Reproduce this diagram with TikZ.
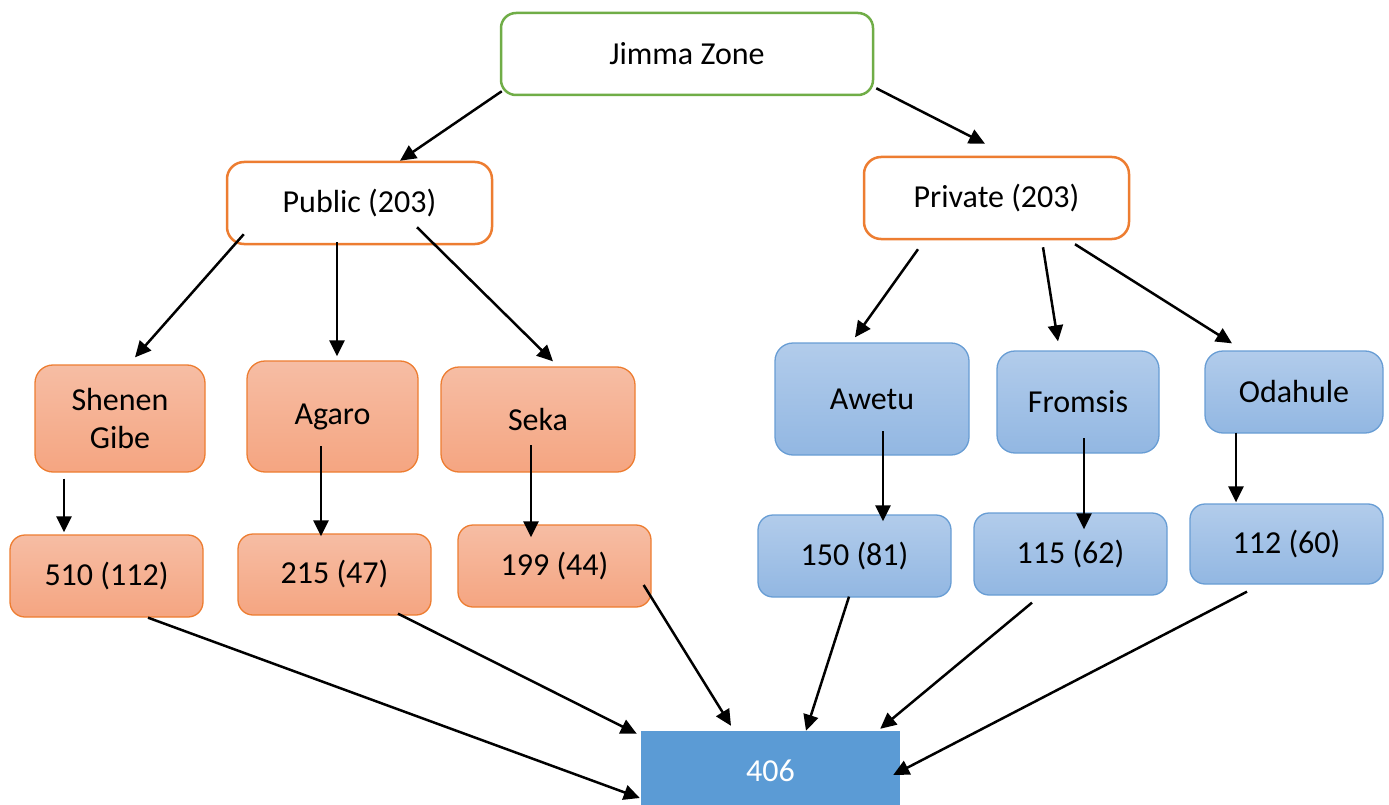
\documentclass[tikz,border=0pt]{standalone}
\usepackage{fontspec}
\setmainfont{Carlito}
\usetikzlibrary{arrows.meta}
\definecolor{grn}{HTML}{70AD47}
\definecolor{org}{HTML}{ED7D31}
\definecolor{orgtop}{RGB}{246,189,164}
\definecolor{orgbot}{RGB}{245,165,129}
\definecolor{blutop}{RGB}{178,204,235}
\definecolor{blubot}{RGB}{146,183,226}
\definecolor{bluline}{RGB}{104,157,212}
\definecolor{blufill}{HTML}{5B9BD5}
\tikzset{
  base/.style={rectangle, inner sep=0pt, align=center, font=\fontsize{32}{38}\selectfont},
  topbox/.style={base, draw=grn, line width=2.5pt, fill=white, rounded corners=15pt},
  midbox/.style={base, draw=org, line width=2.5pt, fill=white, rounded corners=17pt},
  orgbox/.style={base, draw=org, line width=1.3pt, top color=orgtop, bottom color=orgbot, rounded corners=18pt},
  blubox/.style={base, draw=bluline, line width=1.3pt, top color=blutop, bottom color=blubot, rounded corners=18pt},
  totbox/.style={base, fill=blufill, text=white},
  arr/.style={line width=2.5pt, -{Triangle[length=16pt,width=15pt]}}
}
\begin{document}
\begin{tikzpicture}[x=1pt,y=-1pt]
\useasboundingbox (0,0) rectangle (1389,805);
% nodes
\node[topbox, minimum width=372pt, minimum height=82pt] (jimma) at (687,54) {Jimma Zone};
\node[midbox, minimum width=265pt, minimum height=82pt] (public) at (359.5,203) {Public (203)};
\node[midbox, minimum width=265pt, minimum height=82pt] (private) at (996.5,198) {Private (203)};

\node[orgbox, minimum width=170pt, minimum height=107pt] (shenen) at (120,418.5) {Shenen\\Gibe};
\node[orgbox, minimum width=171pt, minimum height=111pt] (agaro) at (332.5,416.5) {Agaro};
\node[orgbox, minimum width=194pt, minimum height=105pt] (seka) at (538,419.5) {Seka};

\node[blubox, minimum width=194pt, minimum height=112pt] (awetu) at (872,399) {Awetu};
\node[blubox, minimum width=162pt, minimum height=102pt] (fromsis) at (1078,402) {Fromsis};
\node[blubox, minimum width=178pt, minimum height=82pt] (odahule) at (1294,392) {Odahule};

\node[orgbox, minimum width=193pt, minimum height=82pt, rounded corners=15pt] (n510) at (106.5,576) {510 (112)};
\node[orgbox, minimum width=193pt, minimum height=81pt, rounded corners=15pt] (n215) at (334.5,574.5) {215 (47)};
\node[orgbox, minimum width=193pt, minimum height=82pt, rounded corners=15pt] (n199) at (554.5,566) {199 (44)};

\node[blubox, minimum width=193pt, minimum height=82pt, rounded corners=15pt] (n150) at (854.5,556) {150 (81)};
\node[blubox, minimum width=193pt, minimum height=82pt, rounded corners=15pt] (n115) at (1070.5,554) {115 (62)};
\node[blubox, minimum width=193pt, minimum height=80pt, rounded corners=15pt] (n112) at (1286.5,544) {112 (60)};

\node[totbox, minimum width=259pt, minimum height=80pt] (total) at (770.5,771) {406};

% connectors
\draw[arr] ([shift={(2,-5)}]jimma.south west) -- ([shift={(40.5,0)}]public.north);
\draw[arr] ([shift={(2,-8)}]jimma.south east) -- ([shift={(-11.5,-12)}]private.north);

\draw[arr] ([shift={(18,-11)}]public.south west) -- ([shift={(15,-7)}]shenen.north);
\draw[arr] ([shift={(-22.5,-3)}]public.south) -- ([shift={(4.5,-4)}]agaro.north);
\draw[arr] ([shift={(57.5,-18)}]public.south) -- ([shift={(15,-5)}]seka.north);

\draw[arr] ([shift={(-78.5,9)}]private.south) -- ([shift={(-17,-5)}]awetu.north);
\draw[arr] ([shift={(46.5,7)}]private.south) -- ([shift={(-20,-9)}]fromsis.north);
\draw[arr] ([shift={(78.5,4)}]private.south) -- ([shift={(-62,-7)}]odahule.north);

\draw[arr] ([shift={(-56,6)}]shenen.south) -- ([shift={(-42.5,-2)}]n510.north);
\draw[arr] ([shift={(-11.5,29.5)}]agaro.center) -- ([shift={(-13.5,3)}]n215.north);
\draw[arr] ([shift={(-7,25.5)}]seka.center) -- ([shift={(-23.5,13)}]n199.north);
\draw[arr] ([shift={(11,32)}]awetu.center) -- ([shift={(28.5,7)}]n150.north);
\draw[arr] ([shift={(6,36)}]fromsis.center) -- ([shift={(13.5,17)}]n115.north);
\draw[arr] ([shift={(-58,-1)}]odahule.south) -- ([shift={(-50.5,-1)}]n112.north);

\draw[arr] ([shift={(41.5,0)}]n510.south) -- ([shift={(-1,27)}]total.west);
\draw[arr] ([shift={(63.5,-2)}]n215.south) -- ([shift={(-4,3)}]total.north west);
\draw[arr] ([shift={(-8,19)}]n199.east) -- ([shift={(-39.5,-5)}]total.north);
\draw[arr] ([shift={(-5.5,-1)}]n150.south) -- ([shift={(35.5,0)}]total.north);
\draw[arr] ([shift={(-38.5,7)}]n115.south) -- ([shift={(-20,-2)}]total.north east);
\draw[arr] ([shift={(-39.5,7)}]n112.south) -- ([shift={(-7,4)}]total.east);
\end{tikzpicture}
\end{document}
